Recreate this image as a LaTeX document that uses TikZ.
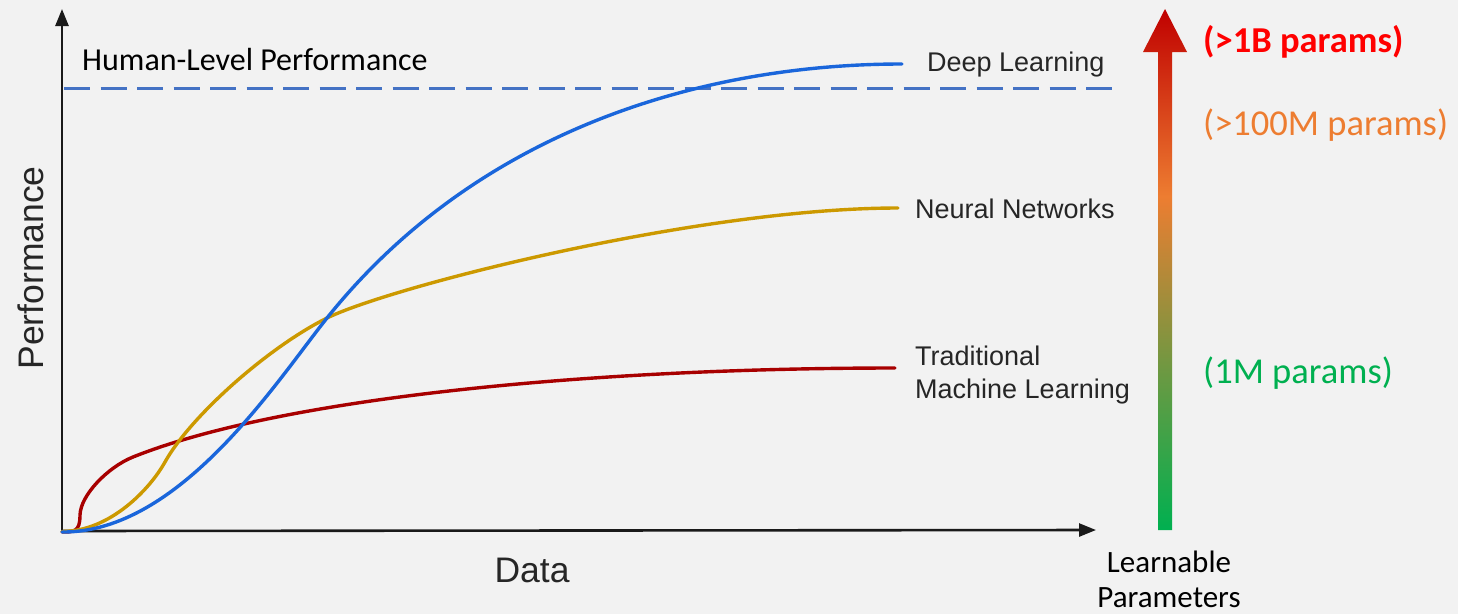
\documentclass[tikz,border=0pt]{standalone}
\usepackage{fontspec}
\setmainfont{Carlito}
\newfontfamily\arialf{Liberation Sans}
\usetikzlibrary{arrows.meta}
\definecolor{bgc}{HTML}{F2F2F2}
\definecolor{dlblue}{HTML}{1A66DB}
\definecolor{nnyellow}{HTML}{CC9900}
\definecolor{mlred}{HTML}{A80000}
\definecolor{dashblue}{HTML}{4472C4}
\definecolor{gGreen}{HTML}{00B050}
\definecolor{gOrange}{HTML}{ED7D31}
\definecolor{gRed}{HTML}{C00000}
\definecolor{txtRed}{HTML}{FF0000}
\definecolor{axisc}{HTML}{1A1A1A}
\pgfdeclareverticalshading{paramgrad}{100bp}{color(0bp)=(gGreen); color(25bp)=(gGreen); color(40bp)=(gGreen!55!gOrange); color(57bp)=(gOrange); color(75bp)=(gRed); color(100bp)=(gRed)}
\tikzset{
  axisline/.style={draw=axisc, line width=2.6pt, -{Triangle[length=17pt,width=13pt]}},
  curve/.style={line width=3.4pt, line cap=round, line join=round},
  curvelabel/.style={anchor=base west, inner sep=0pt, font=\arialf\fontsize{27}{33}\selectfont, text=black!85},
  axislabel/.style={inner sep=0pt, font=\arialf\fontsize{35.5}{40}\selectfont, text=black!85},
  paramlabel/.style={anchor=base west, inner sep=0pt, font=\fontsize{36.5}{40}\selectfont},
}
\begin{document}
\begin{tikzpicture}[x=1pt,y=-1pt]
\fill[bgc] (0,0) rectangle (1458,614);
\useasboundingbox (0,0) rectangle (1458,614);

% axes
\coordinate (O) at (62,531);
\coordinate (ytip) at (62,9);
\coordinate (xtip) at (1096,530);
\draw[axisline] (O) -- (ytip);
\draw[axisline] (O) -- (xtip);

% human level dashed line
\coordinate (hl0) at (64,88);
\coordinate (hl1) at (1118,88);
\draw[dashblue, line width=3pt, dash pattern=on 26pt off 10.5pt] (hl0) -- (hl1);
\node[anchor=base west, inner sep=0pt, font=\fontsize{32}{36}\selectfont] (hlp) at (82,70) {Human-Level Performance};

% curves
\draw[curve, mlred] (62,532) .. controls (74,532) and (80,532) .. (80,515)
  .. controls (80.5,495) and (108,467) .. (133,457)
  .. controls (283,397) and (595,368) .. (895,368);
\draw[curve, nnyellow] (62,531.5) .. controls (110,531.5) and (150,489) .. (165,462)
  .. controls (190,417) and (267,348) .. (327,318)
  .. controls (390,287) and (698,208) .. (898,208);
\draw[curve, dlblue] (62,532) .. controls (180,533) and (277,380.5) .. (327,318)
  .. controls (477,130.5) and (702,64) .. (902,64);

% curve labels
\node[curvelabel] (dl) at (927,71) {Deep Learning};
\node[curvelabel] (nn) at (915,218) {Neural Networks};
\node[curvelabel] (tml1) at (915,365) {Traditional};
\node[curvelabel] (tml2) at (915,398) {Machine Learning};

% axis labels
\node[axislabel, anchor=base] (data) at (532,582) {Data};
\node[axislabel, anchor=base, rotate=90] (perf) at (43,268) {Performance};

% gradient arrow
\shade[shading=paramgrad] (1158,530) -- (1158,52) -- (1143,52) -- (1165,9) -- (1187,52) -- (1172,52) -- (1172,530) -- cycle;

% parameter labels
\node[paramlabel, text=txtRed, font=\bfseries\fontsize{36.5}{40}\selectfont] (p1b) at (1203,52) {(>1B params)};
\node[paramlabel, text=gOrange] (p100m) at (1203,135) {(>100M params)};
\node[paramlabel, text=gGreen] (p1m) at (1203,383) {(1M params)};
\node[anchor=base, inner sep=0pt, font=\fontsize{31}{38}\selectfont] (lp1) at (1169,572) {Learnable};
\node[anchor=base, inner sep=0pt, font=\fontsize{31}{38}\selectfont] (lp2) at (1169,607) {Parameters};
\end{tikzpicture}
\end{document}
